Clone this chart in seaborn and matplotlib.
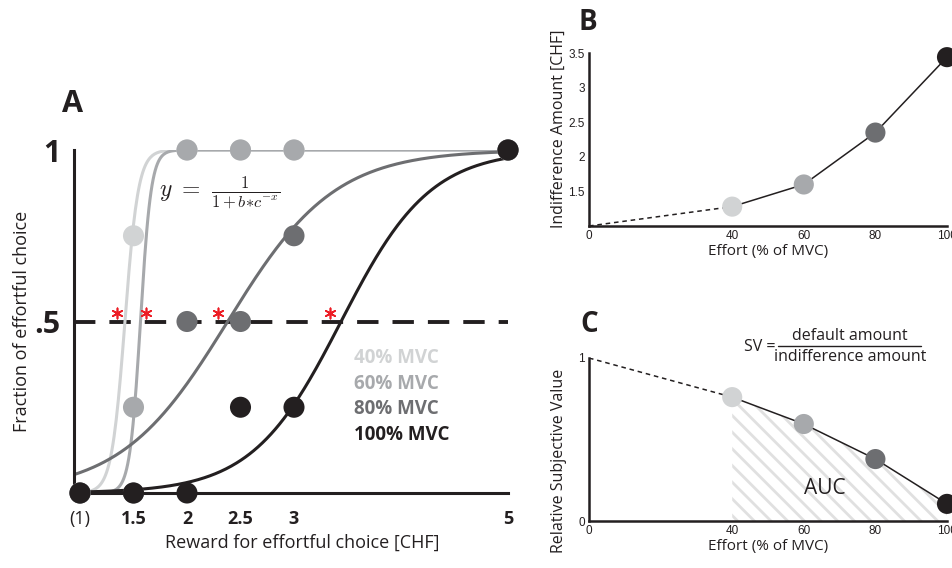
import numpy as np
import pandas as pd
import matplotlib
matplotlib.use('Agg')
import matplotlib.pyplot as plt
import matplotlib.transforms as mtransforms
from matplotlib.lines import Line2D
import seaborn as sns

sns.set_style('white')
plt.rcParams['font.family'] = ['Open Sans', 'DejaVu Sans']
plt.rcParams['mathtext.fontset'] = 'cm'
plt.rcParams['hatch.linewidth'] = 2.0
plt.rcParams['hatch.color'] = '#e0e0e0'

# ---- data ----
efforts = ['40% MVC', '60% MVC', '80% MVC', '100% MVC']
colors = ['#d1d3d4', '#a7a9ac', '#6d6e71', '#231f20']

rewards = [1, 1.5, 2, 2.5, 3, 5]
reward_labels = ['(1)', '1.5', '2', '2.5', '3', '5']
frac_40 = [0, 0.75, 1, 1, 1, 1]
frac_60 = [0, 0.25, 1, 1, 1, 1]
frac_80 = [0, 0, 0.5, 0.5, 0.75, 1]
frac_100 = [0, 0, 0, 0.25, 0.25, 1]

# logistic fits y = 1/(1+b*c^-x), stored as midpoint (log_c b) and slope (ln c)
fit_mid = [1.42, 1.565, 2.38, 3.44]
fit_slope = [16, 20, 2.0, 2.4]
fit_start = [1.03, 1.05, 0.944, 1.0]
indiff_marks = [1.36, 1.63, 2.30, 3.35]

effort_pct = [40, 60, 80, 100]
default_amount = 1.0
indiff_amount = [1.28, 1.60, 2.35, 3.44]
rel_sv = [0.76, 0.595, 0.38, 0.105]

W, H = 952, 568
fig = plt.figure(figsize=(W / 100, H / 100), dpi=100)


def px_rect(l, t, r, b):
    return [l / W, 1 - b / H, (r - l) / W, (b - t) / H]


def fx(x):
    return x / W


def fy(y):
    return 1 - y / H


# ---- panel A ----
ax = fig.add_axes(px_rect(74, 150, 508, 493))

rows = []
for e, m, k, s in zip(efforts, fit_mid, fit_slope, fit_start):
    b = np.exp(k) ** m
    c = np.exp(k)
    for x in np.linspace(s, 5, 400):
        rows.append((e, x, 1 / (1 + b * c ** (-x))))
curves = pd.DataFrame(rows, columns=['effort', 'x', 'y'])
sns.lineplot(data=curves, x='x', y='y', hue='effort', hue_order=efforts,
             palette=colors, legend=False, lw=2.2, sort=False,
             estimator=None, ax=ax, zorder=2)

ax.axhline(0.5, color='#231f20', lw=2.8, ls=(0, (5.5, 3.6)), zorder=1)

pts = pd.DataFrame({
    'effort': np.repeat(efforts, len(rewards)),
    'x': rewards * 4,
    'y': frac_40 + frac_60 + frac_80 + frac_100,
})
sns.scatterplot(data=pts, x='x', y='y', hue='effort', hue_order=efforts,
                palette=colors, s=230, edgecolor='none', legend=False,
                clip_on=False, zorder=5, ax=ax)

star_tr = ax.transData + mtransforms.ScaledTranslation(-1 / 72, 6 / 72, fig.dpi_scale_trans)
ax.scatter(indiff_marks, [0.5] * 4, marker=(6, 2, 0), s=55, color='#ed1c24',
           linewidths=1.2, transform=star_tr, zorder=6, clip_on=False)

ax.text(0.195, 0.875, r'$y\ =\ \frac{1}{1+b{\ast}c^{-x}}$', transform=ax.transAxes,
        fontsize=17, va='center', ha='left', color='#231f20')

for i, e in enumerate(efforts):
    ax.text(0.645, 0.394 - i * 0.075, e, transform=ax.transAxes, color=colors[i],
            fontweight='bold', fontsize=13.5, va='center', ha='left')

ax.set_xlim(0.944, 5)
ax.set_ylim(0, 1)
ax.set_xticks(rewards)
ax.set_xticklabels(reward_labels)
for i, t in enumerate(ax.get_xticklabels()):
    t.set_fontsize(13)
    t.set_fontweight('normal' if i == 0 else 'bold')
ax.set_yticks([0.5, 1])
ax.set_yticklabels(['.5', '1'], fontsize=22, fontweight='bold')
ax.tick_params(axis='x', direction='inout', length=8, width=1.5, pad=8, colors='#231f20')
ax.tick_params(axis='y', direction='inout', length=11, width=1.5, pad=4, colors='#231f20')
sns.despine(ax=ax)
for sp in ['left', 'bottom']:
    ax.spines[sp].set_linewidth(2.2)
    ax.spines[sp].set_color('#231f20')
ax.set_xlabel('Reward for effortful choice [CHF]', fontsize=13, color='#231f20')
ax.set_ylabel('Fraction of effortful choice', fontsize=13, color='#231f20')
ax.xaxis.set_label_coords(0.525, -0.12)
ax.yaxis.set_label_coords(-0.098, 0.5)

# ---- panel B ----
axb = fig.add_axes(px_rect(589, 53, 947, 226))
sns.lineplot(x=effort_pct, y=indiff_amount, color='#231f20', lw=1.1, ax=axb, zorder=2)
sns.lineplot(x=[0, effort_pct[0]], y=[default_amount, indiff_amount[0]],
             color='#231f20', lw=1.1, ls=(0, (3, 2.5)), ax=axb, zorder=2)
sns.scatterplot(x=effort_pct, y=indiff_amount, hue=efforts, hue_order=efforts,
                palette=colors, s=210, edgecolor='none', legend=False,
                clip_on=False, zorder=5, ax=axb)
axb.set_xlim(0, 100)
axb.set_ylim(1, 3.5)
axb.set_yticks([1.5, 2, 2.5, 3, 3.5])
axb.set_yticklabels(['1.5', '2', '2.5', '3', '3.5'])
axb.set_ylabel('Indifference Amount [CHF]', fontsize=11.5, color='#231f20')
axb.yaxis.set_label_coords(-0.062, 0.56)

# ---- panel C ----
axc = fig.add_axes(px_rect(589, 358, 947, 521))
axc.fill_between(effort_pct, rel_sv, 0, facecolor='none', hatch='\\\\',
                 edgecolor='#e0e0e0', linewidth=0, zorder=1)
sns.lineplot(x=effort_pct, y=rel_sv, color='#231f20', lw=1.1, ax=axc, zorder=2)
sns.lineplot(x=[0, effort_pct[0]], y=[1, rel_sv[0]],
             color='#231f20', lw=1.1, ls=(0, (3, 2.5)), ax=axc, zorder=2)
sns.scatterplot(x=effort_pct, y=rel_sv, hue=efforts, hue_order=efforts,
                palette=colors, s=210, edgecolor='none', legend=False,
                clip_on=False, zorder=5, ax=axc)
axc.text(66, 0.2, 'AUC', fontsize=15, ha='center', va='center', color='#231f20')
axc.set_xlim(0, 100)
axc.set_ylim(0, 1)
axc.set_yticks([0, 1])
axc.set_yticklabels(['0', '1'])
axc.set_ylabel('Relative Subjective Value', fontsize=11.5, color='#231f20')
axc.yaxis.set_label_coords(-0.062, 0.37)

for a in (axb, axc):
    a.set_xticks([0] + effort_pct)
    a.set_xticklabels(['0', '40', '60', '80', '100'])
    a.set_xlabel('Effort (% of MVC)', fontsize=11, color='#231f20', labelpad=1)
    a.tick_params(direction='in', length=4, width=1, pad=3, labelsize=8.5, colors='#231f20')
    for t in a.get_xticklabels() + a.get_yticklabels():
        t.set_family(['Liberation Sans', 'DejaVu Sans'])
    sns.despine(ax=a)
    for sp in ['left', 'bottom']:
        a.spines[sp].set_linewidth(1.8)
        a.spines[sp].set_color('#231f20')

# SV fraction
fig.text(fx(760), fy(347), 'SV =', fontsize=11.5, ha='center', va='center', color='#231f20')
fig.text(fx(850), fy(336), 'default amount', fontsize=11.5, ha='center', va='center', color='#231f20')
fig.text(fx(850), fy(357), 'indifference amount', fontsize=11.5, ha='center', va='center', color='#231f20')
fig.add_artist(Line2D([fx(778), fx(921)], [fy(346), fy(346)], color='#231f20', lw=1))

# panel letters
fig.text(fx(73), fy(104), 'A', fontsize=22, fontweight='bold', ha='center', va='center', color='#231f20')
fig.text(fx(588), fy(23), 'B', fontsize=20, fontweight='bold', ha='center', va='center', color='#231f20')
fig.text(fx(589), fy(325), 'C', fontsize=20, fontweight='bold', ha='center', va='center', color='#231f20')

fig.savefig('out.png', dpi=100)
